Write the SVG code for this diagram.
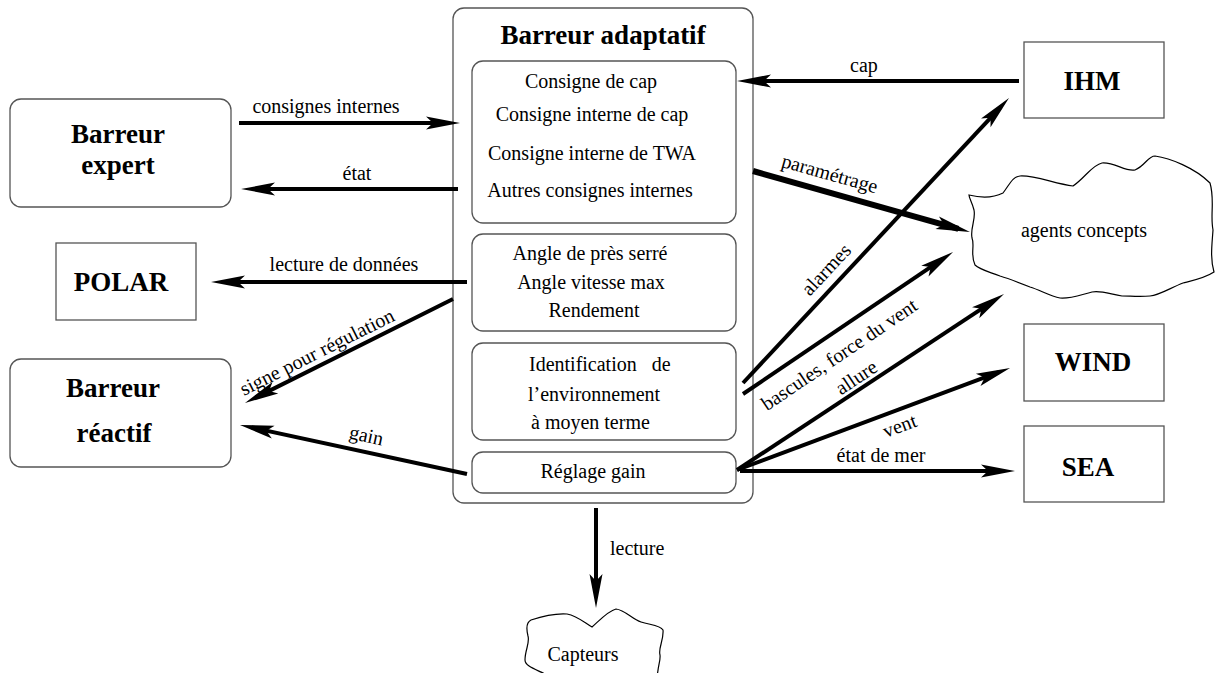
<svg xmlns="http://www.w3.org/2000/svg" width="1216" height="673" viewBox="0 0 1216 673">
<style>
.box{fill:#fff;stroke:#555;stroke-width:1.3}
.cloud{fill:#fff;stroke:#000;stroke-width:1.2}
text{font-family:'Liberation Serif','Times New Roman',serif;fill:#000}
.t{font-size:27px;font-weight:bold;text-anchor:middle}
.l{font-size:20px;text-anchor:middle}
.ls{font-size:20px;text-anchor:start}
.c{fill:none;stroke:#000;stroke-width:4;marker-end:url(#ah)}
.c6{fill:none;stroke:#000;stroke-width:6;marker-end:url(#ah)}
</style>
<defs>
<marker id="ah" markerUnits="userSpaceOnUse" viewBox="-25 -8 40 16" markerWidth="40" markerHeight="16" refX="0" refY="0" orient="auto" overflow="visible">
<path d="M12,0 L-22,-6.5 L-15,0 L-22,6.5 Z" fill="#000"/>
</marker>
</defs>
<rect width="1216" height="673" fill="#fff"/>

<g id="barreur-adaptatif">
<rect class="box" x="453" y="8" width="300" height="495" rx="11"/>
<text class="t" x="603" y="44">Barreur adaptatif</text>
</g>
<g id="consignes">
<rect class="box" x="472" y="61" width="264" height="162" rx="11"/>
<text class="l" x="591" y="88">Consigne de cap</text>
<text class="l" x="592" y="121">Consigne interne de cap</text>
<text class="l" x="592" y="160">Consigne interne de TWA</text>
<text class="l" x="590" y="197">Autres consignes internes</text>
</g>
<g id="angles">
<rect class="box" x="472" y="234" width="264" height="97" rx="11"/>
<text class="l" x="590" y="260">Angle de près serré</text>
<text class="l" x="591" y="289">Angle vitesse max</text>
<text class="l" x="594" y="317">Rendement</text>
</g>
<g id="identification">
<rect class="box" x="472" y="343" width="264" height="97" rx="11"/>
<text class="ls" x="529" y="371" xml:space="preserve">Identification   de</text>
<text class="ls" x="528" y="401">l’environnement</text>
<text class="ls" x="531" y="429">à moyen terme</text>
</g>
<g id="reglage-gain">
<rect class="box" x="472" y="452" width="264" height="41" rx="11"/>
<text class="l" x="593" y="478">Réglage gain</text>
</g>

<g id="barreur-expert">
<rect class="box" x="10" y="99" width="221" height="108" rx="11"/>
<text class="t" x="118" y="143">Barreur</text>
<text class="t" x="118" y="174">expert</text>
</g>
<g id="polar">
<rect class="box" x="56" y="243" width="140" height="77"/>
<text class="t" x="121" y="291">POLAR</text>
</g>
<g id="barreur-reactif">
<rect class="box" x="10" y="359" width="221" height="108" rx="11"/>
<text class="t" x="113" y="397">Barreur</text>
<text class="t" x="114" y="442">réactif</text>
</g>
<g id="ihm">
<rect class="box" x="1024" y="42" width="140" height="76"/>
<text class="t" x="1092" y="90">IHM</text>
</g>
<g id="wind">
<rect class="box" x="1024" y="324" width="140" height="77"/>
<text class="t" x="1093" y="371">WIND</text>
</g>
<g id="sea">
<rect class="box" x="1024" y="426" width="140" height="76"/>
<text class="t" x="1088" y="476">SEA</text>
</g>
<g id="agents-concepts">
<path class="cloud" d="M969,195 C985,199 995,197 1003,193 C1010,184 1012,177 1020,176 C1035,175 1055,184 1073,186 C1085,178 1092,165 1102,163 C1115,162 1125,172 1135,170 C1145,166 1148,156 1155,156 C1170,158 1195,168 1210,183 C1215,200 1210,215 1213,230 C1212,245 1210,258 1214,272 C1205,278 1195,280 1183,283 C1170,288 1160,295 1150,296 C1140,297 1130,296 1122,296 C1110,294 1100,290 1092,292 C1080,295 1070,299 1060,298 C1050,296 1040,290 1030,287 C1020,283 1010,279 1000,276 C990,272 980,270 975,265 C970,255 975,245 972,238 C970,228 976,220 974,210 C972,202 969,198 969,195 Z"/>
<text class="l" x="1084" y="237">agents concepts</text>
</g>
<g id="capteurs">
<path class="cloud" d="M545,690 L545,674 C535,669 525,666 525,660 C525,650 530,643 528,636 C526,628 527,622 531,620 C540,617 552,613 567,614 C578,616 586,624 592,627 C600,620 608,611 616,609 C625,610 632,619 641,622 C650,625 660,625 663,630 C664,640 658,648 660,655 C661,662 656,668 657,690"/>
<text class="l" x="583" y="661">Capteurs</text>
</g>

<g id="connectors">
<line class="c" x1="239" y1="123" x2="448" y2="123"/>
<line class="c" x1="458" y1="189" x2="253" y2="189"/>
<line class="c" x1="1019" y1="81" x2="749" y2="81"/>
<line class="c" x1="467" y1="282" x2="223" y2="282"/>
<line class="c" x1="453" y1="299" x2="255.7" y2="397.6"/>
<line class="c" x1="467" y1="474" x2="251.7" y2="427.5"/>
<line class="c6" x1="753" y1="171" x2="958.4" y2="228.8"/>
<line class="c" x1="743" y1="383" x2="1000.8" y2="106.8"/>
<line class="c" x1="743" y1="394" x2="943.1" y2="258.7"/>
<line class="c" x1="737" y1="470" x2="994" y2="300.6"/>
<line class="c" x1="737" y1="470" x2="998.8" y2="372.2"/>
<line class="c" x1="740" y1="471" x2="1003" y2="471"/>
<line class="c" x1="596" y1="508" x2="596" y2="596"/>

<text class="l" x="326" y="113">consignes internes</text>
<text class="l" x="357" y="180">état</text>
<text class="l" x="864" y="72">cap</text>
<text class="l" x="344" y="271">lecture de données</text>
<text class="l" x="320" y="358" transform="rotate(-26.6 320 358)">signe pour régulation</text>
<text class="l" x="365" y="442" transform="rotate(12.2 365 442)">gain</text>
<text class="l" x="828" y="180" transform="rotate(15.7 828 180)">paramétrage</text>
<text class="l" x="831" y="274" transform="rotate(-47 831 274)">alarmes</text>
<text class="l" x="843" y="360" transform="rotate(-34 843 360)">bascules, force du vent</text>
<text class="l" x="860" y="383" transform="rotate(-33.4 860 383)">allure</text>
<text class="l" x="902" y="432" transform="rotate(-20.5 902 432)">vent</text>
<text class="l" x="881" y="462">état de mer</text>
<text class="ls" x="610" y="555">lecture</text>
</g>
</svg>
